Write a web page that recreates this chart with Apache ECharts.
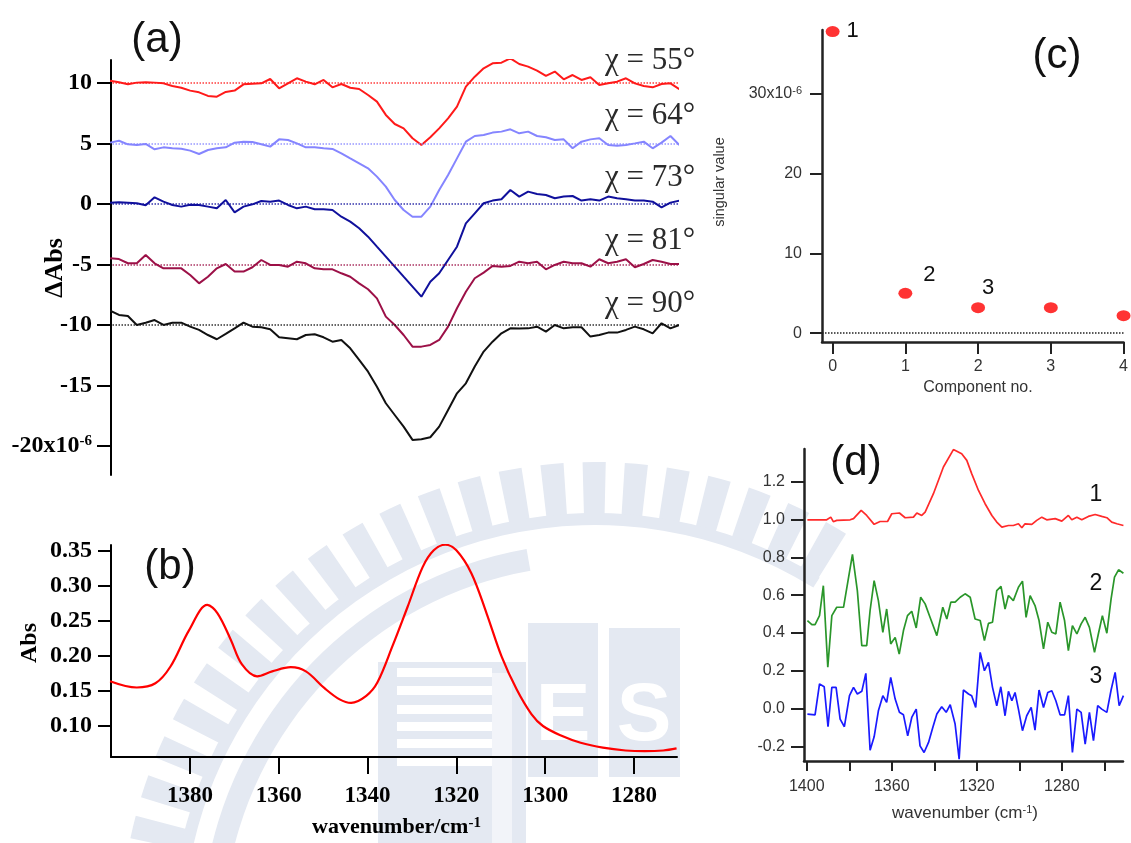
<!DOCTYPE html>
<html>
<head>
<meta charset="utf-8">
<script src="https://cdn.jsdelivr.net/npm/echarts@6/dist/echarts.min.js"></script>
<style>
html, body { margin: 0; padding: 0; background: #fff; }
#main { width: 1131px; height: 843px; }
</style>
</head>
<body>
<div id="main"></div>
<script>
// (a) difference spectra, x = wavenumber, values in 1e-6
var wnA = [1398,1396,1394,1392,1390,1388,1386,1384,1382,1380,1378,1376,1374,1372,1370,1368,1366,1364,1362,1360,1358,1356,1354,
    1352,1350,1348,1346,1344,1342,1340,1338,1336,1334,1332,1330,1328,1326,1324,1322,1320,1318,1316,1314,1312,
    1310,1308,1306,1304,1302,1300,1298,1296,1294,1292,1290,1288,1286,1284,1282,1280,1278,1276,1274,1272,1270];
var dA55 = [10.19,10.06,9.89,10.03,10.06,10.03,9.97,9.75,9.61,9.37,9.23,8.93,8.87,9.26,9.37,9.89,9.94,9.97,10.33,9.56,9.97,10.39,10.11,
    9.89,10.25,9.64,9.92,9.61,9.50,9.01,8.46,7.36,6.61,6.25,5.43,4.88,5.51,6.25,7.08,8.04,9.70,10.52,11.21,11.63,
    11.68,12.04,11.57,11.35,11.02,10.58,10.94,10.30,10.66,10.25,10.47,9.83,9.97,10.11,10.39,9.97,9.75,9.64,9.92,9.97,9.48];
var dA64 = [5.07,5.23,4.93,4.88,4.96,4.52,4.68,4.60,4.57,4.41,4.13,4.46,4.60,4.68,5.07,5.15,5.12,4.93,4.74,5.34,5.29,5.01,4.68,
    4.68,4.60,4.55,4.19,3.77,3.36,2.95,2.26,1.43,0.33,-0.50,-1.05,-1.05,-0.22,1.16,2.40,3.77,5.15,5.62,5.70,5.90,
    5.98,6.17,5.84,5.98,5.62,5.51,5.29,5.34,4.60,5.15,5.34,5.43,4.88,4.82,4.88,5.01,5.15,4.60,5.07,5.62,4.88];
var dA73 = [0.11,0.14,0.11,0.06,-0.11,0.55,0.19,-0.08,-0.22,-0.06,-0.08,-0.22,-0.36,0.33,-0.69,-0.22,-0.03,0.25,0.19,0.28,-0.08,-0.36,-0.22,
    -0.44,-0.44,-0.50,-1.05,-1.46,-2.01,-2.70,-3.53,-4.35,-5.18,-6.01,-6.83,-7.66,-6.42,-5.73,-4.63,-3.53,-1.60,-0.77,0.06,0.28,
    0.39,1.16,0.61,1.02,0.83,0.74,0.47,0.61,0.66,0.28,0.39,0.28,0.61,0.47,0.39,0.28,0.28,0.19,-0.28,0.11,0.28];
var dA81 = [-4.49,-4.55,-4.90,-4.90,-4.21,-4.90,-5.32,-5.32,-5.32,-5.87,-6.56,-6.01,-5.32,-4.96,-5.59,-5.59,-5.23,-4.63,-5.04,-5.04,-5.18,-4.77,-4.90,
    -5.32,-5.40,-5.40,-5.73,-6.01,-6.56,-7.05,-7.80,-9.31,-10.00,-10.83,-11.79,-11.79,-11.65,-11.24,-10.14,-8.62,-7.25,-6.14,-5.67,-5.12,
    -5.18,-5.12,-4.77,-4.90,-4.77,-5.40,-5.04,-4.77,-4.90,-4.90,-5.18,-4.57,-4.90,-4.77,-4.57,-5.23,-4.96,-4.63,-4.77,-4.96,-4.96];
var dA90 = [-8.82,-9.17,-9.26,-10.00,-9.81,-9.59,-10.00,-9.81,-9.81,-10.14,-10.41,-10.83,-11.18,-10.74,-10.28,-9.81,-10.14,-10.19,-10.36,-11.02,-11.10,-11.18,-10.83,
    -10.77,-11.02,-11.38,-11.24,-11.93,-12.89,-13.86,-15.10,-16.47,-17.44,-18.40,-19.50,-19.45,-19.28,-18.40,-17.02,-15.65,-14.82,-13.44,-12.20,-11.38,
    -10.69,-10.28,-10.30,-10.28,-10.14,-10.55,-10.00,-10.28,-10.19,-10.19,-10.96,-10.83,-10.63,-10.63,-10.41,-10.14,-10.36,-10.69,-9.86,-10.28,-10.00];
var anglesA = ['55', '64', '73', '81', '90'];
var baseA = [10, 5, 0, -5, -10];
var ticksAy = [-20, -15, -10, -5, 0, 5, 10];

// (b) absorbance spectrum
var wnB = [1398,1392,1387.8,1384.4,1380.2,1376.1,1373.8,1370.8,1368.3,1364.9,1361.5,1357.3,1353.9,1349.7,1346.3,1343.7,1340.3,1337.8,
    1334.4,1331.0,1327.6,1325.1,1322.5,1320.0,1316.6,1313.2,1309.8,1306.4,1303.1,1300.5,1296.3,1292.0,1287.0,1281.9,1277.6,1273.4,1270.4];
var absB = [0.164,0.155,0.161,0.185,0.237,0.273,0.261,0.223,0.188,0.171,0.178,0.184,0.178,0.154,0.138,0.133,0.143,0.162,
    0.214,0.270,0.327,0.351,0.359,0.351,0.318,0.261,0.199,0.152,0.117,0.100,0.086,0.076,0.069,0.065,0.064,0.065,0.068];
var ticksBx = [1280, 1300, 1320, 1340, 1360, 1380];
var ticksBy = [0.10, 0.15, 0.20, 0.25, 0.30, 0.35];

// (c) singular values, 1e-6
var compNo = [0, 1, 2, 3, 4];
var singVal = [37.8, 5.0, 3.2, 3.2, 2.2];
var compTags = ['1', '2', '3'];
var ticksCx = [0, 1, 2, 3, 4];
var ticksCy = [0, 10, 20, 30];

// (d) components
var wnD1 = [1399.7,1390.6,1388.7,1387.5,1385.9,1379.6,1378.0,1374.4,1371.8,1368.3,1365.5,1362.0,1360.0,1356.4,1353.7,1349.8,1348.2,1345.9,1344.3,1340.4,1335.7,1331.0,
    1327.1,1324.7,1322.4,1319.2,1316.1,1312.9,1310.6,1308.2,1305.1,1302.8,1300.4,1298.8,1297.3,1294.1,1291.8,1289.4,1287.1,1283.1,1280.0,1276.9,1275.3,1272.9,1270.6,1267.5,1264.3,1261.2,1258.8,1256.5,1254.1,1251.0];
var vD1 = [0.998,0.998,1.012,0.988,0.995,0.998,1.004,1.048,1.021,0.974,0.989,0.989,1.030,1.034,1.009,1.012,1.034,1.021,1.039,1.136,1.277,1.369,
    1.347,1.312,1.242,1.153,1.083,1.021,0.986,0.959,0.968,0.968,0.977,0.956,0.977,0.974,0.995,1.012,0.998,1.004,0.991,1.021,0.998,1.012,0.998,1.016,1.026,1.016,1.009,0.986,0.977,0.968];
var wnD2 = [1399.7,1397.6,1396.1,1394.0,1392.2,1390.1,1388.2,1385.9,1382.7,1378.5,1376.2,1374.1,1371.8,1370.2,1368.3,1366.3,1364.2,1362.4,1360.5,1358.4,1356.5,1354.5,1352.6,1350.6,1348.5,1346.4,1344.3,1342.0,1338.8,1336.0,1334.1,1332.2,
    1330.2,1327.8,1325.5,1323.1,1320.8,1318.4,1316.4,1314.5,1312.6,1310.6,1308.6,1306.7,1305.1,1302.8,1300.4,1298.5,1296.8,1294.9,1292.6,1290.7,1288.6,1286.6,1284.7,1282.8,1280.8,1278.7,1276.9,1275.0,1272.9,1270.9,1269.0,1267.0,1264.6,1262.8,1260.9,1258.8,1256.8,1255.2,1253.3,1251.0];
var vD2 = [0.466,0.444,0.444,0.492,0.650,0.219,0.492,0.536,0.536,0.815,0.624,0.333,0.333,0.519,0.677,0.571,0.404,0.527,0.342,0.377,0.289,0.413,0.492,0.515,0.427,0.589,0.554,0.483,0.386,0.536,0.474,0.563,
    0.563,0.589,0.607,0.589,0.474,0.466,0.360,0.451,0.457,0.624,0.646,0.527,0.598,0.571,0.642,0.674,0.483,0.598,0.545,0.466,0.316,0.457,0.404,0.395,0.563,0.466,0.307,0.439,0.395,0.448,0.483,0.430,0.298,0.395,0.492,0.399,0.580,0.695,0.734,0.716];
var wnD3 = [1399.7,1396.1,1394.0,1391.8,1390.0,1388.2,1386.2,1384.3,1382.3,1379.9,1378.0,1376.2,1374.1,1372.2,1370.2,1368.3,1366.3,1364.2,1362.4,1360.5,1358.4,1356.4,1354.5,1352.5,1350.6,1348.5,1346.7,1344.8,1342.7,1340.7,1338.8,1336.5,1334.4,1332.5,1330.2,1328.3,
    1326.3,1323.9,1322.4,1320.5,1318.4,1316.4,1314.5,1312.6,1310.6,1308.7,1306.7,1305.1,1303.5,1302.0,1300.4,1298.5,1296.5,1294.4,1292.6,1290.7,1288.6,1286.6,1284.7,1282.8,1280.8,1278.7,1276.9,1275.0,1272.9,1270.9,1269.0,1267.0,1265.1,1263.1,1261.2,1258.8,1256.8,1254.9,1253.0,1251.0];
var vD3 = [-0.028,-0.032,0.131,0.116,-0.095,0.113,0.113,-0.055,-0.095,0.069,0.113,0.078,0.092,0.187,-0.219,-0.148,-0.011,0.069,0.034,0.166,0.051,-0.019,-0.032,-0.143,-0.046,-0.002,-0.196,-0.231,-0.178,-0.099,-0.028,0.011,-0.019,0.021,-0.081,-0.266,
    0.099,0.078,0.069,0.007,0.298,0.201,0.245,0.113,0.016,0.116,-0.037,0.092,0.042,0.086,-0.002,-0.116,-0.037,0.007,-0.113,0.099,0.007,0.086,0.095,0.042,-0.032,-0.032,0.069,-0.231,-0.002,-0.019,-0.187,-0.019,-0.169,0.016,-0.002,-0.019,0.099,0.192,0.016,0.069];
var ticksDx = [1260, 1280, 1300, 1320, 1340, 1360, 1380, 1400];
var labelsDx = [1280, 1320, 1360, 1400];
var ticksDy = [-0.2, 0, 0.2, 0.4, 0.6, 0.8, 1.0, 1.2];
var compNames = ['1', '2', '3'];

var SERIF = "'Liberation Serif', 'Times New Roman', serif";
var SANS = "'Liberation Sans', Arial, sans-serif";
var WM = '#e4e9f2';   // watermark tint

function pairs(xs, ys) {
    return xs.map(function (x, i) { return [x, ys[i]]; });
}
function plain(v) { return String(v); }

var myChart = echarts.init(document.getElementById('main'));

var colorsA = ['#ff1a1a', '#8585ff', '#10109c', '#9c1047', '#111111'];
var dataA = [dA55, dA64, dA73, dA81, dA90];
var series = [];

dataA.forEach(function (d, i) {
    series.push({
        type: 'line', xAxisIndex: 0, yAxisIndex: 0,
        data: pairs(wnA, d),
        showSymbol: false,
        lineStyle: { color: colorsA[i], width: 2 },
        markLine: {
            silent: true, symbol: 'none', label: { show: false },
            lineStyle: { color: colorsA[i], type: 'dotted', width: 1.5, opacity: 0.85 },
            data: [{ yAxis: baseA[i] }]
        }
    });
});

series.push({
    type: 'line', xAxisIndex: 1, yAxisIndex: 1,
    data: pairs(wnB, absB), showSymbol: false, smooth: 0.35,
    lineStyle: { color: '#ff0000', width: 2.2 }
});

series.push({
    type: 'scatter', xAxisIndex: 2, yAxisIndex: 2,
    data: pairs(compNo, singVal), clip: false,
    symbol: 'circle', symbolSize: [14, 11],
    itemStyle: { color: '#ff0000' },
    markLine: {
        silent: true, symbol: 'none', label: { show: false },
        lineStyle: { color: '#222', type: 'dotted', width: 1.5 },
        data: [{ yAxis: 0 }]
    }
});

var colorsD = ['#ff2a2a', '#2a962a', '#1a1aff'];
[[wnD1, vD1], [wnD2, vD2], [wnD3, vD3]].forEach(function (p, i) {
    series.push({
        type: 'line', xAxisIndex: 3, yAxisIndex: 3,
        data: pairs(p[0], p[1]), showSymbol: false,
        lineStyle: { color: colorsD[i], width: 1.7 }
    });
});

var option = {
    animation: false,
    backgroundColor: '#fff',
    grid: [
        { left: 111, top: 60, width: 567, height: 415 },
        { left: 111, top: 545, width: 566, height: 212 },
        { left: 822, top: 30, width: 303, height: 312 },
        { left: 804, top: 449, width: 319, height: 312 }
    ],
    xAxis: [
        { gridIndex: 0, type: 'value', min: 1270.3, max: 1397.8, inverse: true, show: false },
        {
            gridIndex: 1, type: 'value', min: 1270.3, max: 1397.8, inverse: true,
            axisLine: { onZero: false, lineStyle: { color: '#000', width: 2 } },
            axisTick: { customValues: ticksBx, length: 17, lineStyle: { width: 2 } },
            axisLabel: { customValues: ticksBx, formatter: plain, margin: 28, fontSize: 23, fontFamily: SERIF, fontWeight: 'bold', color: '#000' },
            splitLine: { show: false }
        },
        {
            gridIndex: 2, type: 'value', min: -0.146, max: 4,
            axisLine: { onZero: false, lineStyle: { color: '#222', width: 2.5 } },
            axisTick: { customValues: ticksCx, length: 12, lineStyle: { width: 2 } },
            axisLabel: { customValues: ticksCx, formatter: plain, margin: 17, fontSize: 16, fontFamily: SANS, color: '#333' },
            splitLine: { show: false }
        },
        {
            gridIndex: 3, type: 'value', min: 1251.2, max: 1401.3, inverse: true,
            axisLine: { onZero: false, lineStyle: { color: '#222', width: 2.5 } },
            axisTick: { customValues: ticksDx, length: 10, lineStyle: { width: 2 } },
            axisLabel: { customValues: labelsDx, formatter: plain, margin: 18, fontSize: 16, fontFamily: SANS, color: '#333' },
            splitLine: { show: false }
        }
    ],
    yAxis: [
        {
            gridIndex: 0, type: 'value', min: -22.4, max: 11.9,
            axisLine: { show: true, onZero: false, lineStyle: { color: '#000', width: 2 } },
            axisTick: { show: true, customValues: ticksAy, length: 14, lineStyle: { width: 2 } },
            axisLabel: {
                customValues: ticksAy, margin: 19,
                formatter: function (v) { return v === -20 ? '{n|-20x10}{s|-6}' : '{n|' + v + '}'; },
                rich: {
                    n: { fontFamily: SERIF, fontWeight: 'bold', fontSize: 24, color: '#000' },
                    s: { fontFamily: SERIF, fontWeight: 'bold', fontSize: 15, color: '#000', verticalAlign: 'top' }
                }
            },
            splitLine: { show: false }
        },
        {
            gridIndex: 1, type: 'value', min: 0.0557, max: 0.3586,
            axisLine: { show: true, onZero: false, lineStyle: { color: '#000', width: 2 } },
            axisTick: { show: true, customValues: ticksBy, length: 13, lineStyle: { width: 2 } },
            axisLabel: {
                customValues: ticksBy, margin: 19, fontSize: 24, fontFamily: SERIF, fontWeight: 'bold', color: '#000',
                formatter: function (v) { return v.toFixed(2); }
            },
            splitLine: { show: false }
        },
        {
            gridIndex: 2, type: 'value', min: -1.1, max: 38,
            axisLine: { show: true, onZero: false, lineStyle: { color: '#222', width: 2.5 } },
            axisTick: { show: true, customValues: ticksCy, length: 12, lineStyle: { width: 2 } },
            axisLabel: {
                customValues: ticksCy, margin: 20,
                formatter: function (v) { return v === 30 ? '{n|30x10}{s|-6}' : '{n|' + v + '}'; },
                rich: {
                    n: { fontFamily: SANS, fontSize: 16, color: '#333' },
                    s: { fontFamily: SANS, fontSize: 11, color: '#333', verticalAlign: 'top' }
                }
            },
            splitLine: { show: false }
        },
        {
            gridIndex: 3, type: 'value', min: -0.276, max: 1.372,
            axisLine: { show: true, onZero: false, lineStyle: { color: '#222', width: 2.5 } },
            axisTick: { show: true, customValues: ticksDy, length: 13, lineStyle: { width: 2 } },
            axisLabel: {
                customValues: ticksDy, margin: 19, fontSize: 16, fontFamily: SANS, color: '#333',
                formatter: function (v) { return v.toFixed(1); }
            },
            splitLine: { show: false }
        }
    ],
    series: series
};

myChart.setOption(option);

function px(gridIdx, x, y) {
    return myChart.convertToPixel({ xAxisIndex: gridIdx, yAxisIndex: gridIdx }, [x, y]);
}

var graphics = [];

// faint background seal (decoration only)
var sealC = [595, 937];
var deg = Math.PI / 180;
for (var a = -168; a <= -60; a += 5.1) {
    graphics.push({ type: 'sector', z: -5, silent: true,
        shape: { cx: sealC[0], cy: sealC[1], r0: 414, r: 475, startAngle: a * deg, endAngle: (a + 2.8) * deg },
        style: { fill: WM } });
}
graphics.push({ type: 'sector', z: -5, silent: true,
    shape: { cx: sealC[0], cy: sealC[1], r0: 412, r: 424, startAngle: -170 * deg, endAngle: -58 * deg },
    style: { fill: WM } });
graphics.push({ type: 'sector', z: -5, silent: true,
    shape: { cx: sealC[0], cy: sealC[1], r0: 372, r: 394, startAngle: -172 * deg, endAngle: -100 * deg },
    style: { fill: WM } });
graphics.push({ type: 'rect', z: -5, silent: true, shape: { x: 378, y: 662, width: 148, height: 181 }, style: { fill: WM } });
[668, 686, 705, 722, 739, 757].forEach(function (y) {
    graphics.push({ type: 'rect', z: -4, silent: true, shape: { x: 397, y: y, width: 95, height: 9 }, style: { fill: '#fff' } });
});
graphics.push({ type: 'rect', z: -4, silent: true, shape: { x: 492, y: 673, width: 20, height: 170 }, style: { fill: '#f2f4f9' } });
graphics.push({ type: 'rect', z: -5, silent: true, shape: { x: 528, y: 623, width: 70, height: 154 }, style: { fill: WM } });
graphics.push({ type: 'rect', z: -5, silent: true, shape: { x: 609, y: 628, width: 71, height: 149 }, style: { fill: WM } });
graphics.push({ type: 'text', z: -4, silent: true, x: 563, y: 717,
    style: { text: 'E', fill: '#fff', fontFamily: SANS, fontWeight: 'bold', fontSize: 82, align: 'center', verticalAlign: 'middle' } });
graphics.push({ type: 'text', z: -4, silent: true, x: 644, y: 717,
    style: { text: 'S', fill: '#fff', fontFamily: SANS, fontWeight: 'bold', fontSize: 82, align: 'center', verticalAlign: 'middle' } });

function txt(x, y, text, style, extra) {
    var s = Object.assign({ text: text, align: 'center', verticalAlign: 'middle', fill: '#111' }, style);
    graphics.push(Object.assign({ type: 'text', x: x, y: y, style: s, z: 10 }, extra || {}));
}

// panel letters
var letterFont = { fontFamily: SANS, fontSize: 42, fill: '#111' };
txt(157, 40, '(a)', letterFont);
txt(170, 567, '(b)', letterFont);
txt(1057, 56, '(c)', letterFont);
txt(856, 463, '(d)', letterFont);

// angle labels in (a)
var angleY = [61, 116, 178, 241, 304];
anglesA.forEach(function (a, i) {
    txt(605, angleY[i], 'χ = ' + a + '°', { fontFamily: SERIF, fontSize: 31, fill: '#2a2a2a', align: 'left' });
});

// axis titles
txt(55, 268, 'ΔAbs', { fontFamily: SERIF, fontWeight: 'bold', fontSize: 26, fill: '#000' }, { rotation: Math.PI / 2 });
txt(30, 643, 'Abs', { fontFamily: SERIF, fontWeight: 'bold', fontSize: 24, fill: '#000' }, { rotation: Math.PI / 2 });
txt(312, 827, '{n|wavenumber/cm}{s|-1}', {
    align: 'left',
    rich: {
        n: { fontFamily: SERIF, fontWeight: 'bold', fontSize: 22, fill: '#000' },
        s: { fontFamily: SERIF, fontWeight: 'bold', fontSize: 15, fill: '#000', verticalAlign: 'top' }
    }
});
txt(720, 182, 'singular value', { fontFamily: SANS, fontSize: 14.5, fill: '#333' }, { rotation: Math.PI / 2 });
txt(978, 388, 'Component no.', { fontFamily: SANS, fontSize: 16, fill: '#333' });
txt(965, 813, '{n|wavenumber (cm}{s|-1}{n|)}', {
    rich: {
        n: { fontFamily: SANS, fontSize: 17, fill: '#333' },
        s: { fontFamily: SANS, fontSize: 11, fill: '#333', verticalAlign: 'top' }
    }
});

// (c) point tags next to the first three points
var tagOffsets = [[20, -1], [24, -18], [10, -20]];
compTags.forEach(function (t, i) {
    var p = px(2, compNo[i], singVal[i]);
    txt(p[0] + tagOffsets[i][0], p[1] + tagOffsets[i][1], t, { fontFamily: SANS, fontSize: 22, fill: '#111' });
});

// (d) component numbers
var compY = [495, 584, 677];
compNames.forEach(function (t, i) {
    txt(1096, compY[i], t, { fontFamily: SANS, fontSize: 23, fill: '#111' });
});

myChart.setOption({ graphic: graphics });

window.addEventListener('resize', function () {
    myChart.resize();
});
</script>
</body>
</html>
